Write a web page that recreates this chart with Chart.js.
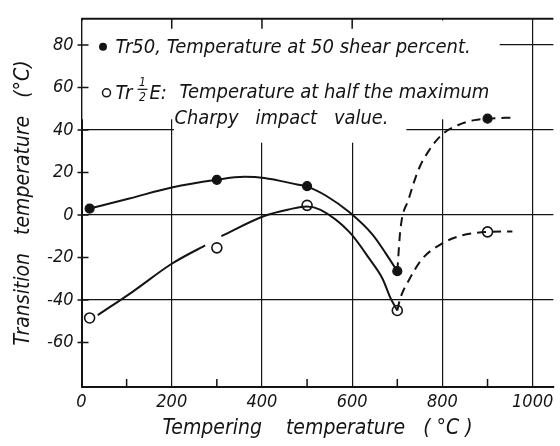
<!DOCTYPE html>
<html>
<head>
<meta charset="utf-8">
<script src="https://cdn.jsdelivr.net/npm/chart.js@4.4.1/dist/chart.umd.min.js"></script>
<style>
  html, body { margin: 0; padding: 0; background: #fff; }
  #wrap { width: 560px; height: 446px; }
</style>
</head>
<body>
<div id="wrap"><canvas id="chart" width="560" height="446"></canvas></div>
<script>
// measured points (tempering temperature, deg C)
const tempering = [18, 300, 500, 700, 900];
const tr50 = [3, 16.5, 13.5, -26.5, 45.3];
const trHalfE = [-48.5, -15.5, 4.5, -45, -8];

// hand-drawn curves
const tr50SolidX = [18, 106, 200, 296, 361, 405, 478, 500, 543, 594, 646, 674, 700];
const tr50SolidY = [3, 7.7, 12.9, 16.4, 17.9, 17.4, 14.3, 13.3, 8.9, 1.2, -9.5, -18, -26.5];
const tr50DashX = [700, 707, 725, 747, 769, 798, 834, 871, 900, 960];
const tr50DashY = [-26.5, -6.6, 7.3, 21.3, 29.9, 37.6, 42.2, 44.6, 45.3, 45.8];

const halfSolidAX = [36, 113, 200, 274];
const halfSolidAY = [-47.2, -36.2, -23, -14.3];
const halfSolidBX = [310, 405, 460, 500, 530, 594, 638, 667, 685, 700];
const halfSolidBY = [-10, -0.5, 2.6, 4, 2.4, -8.1, -20.6, -29.9, -39.2, -45];
const halfDashX = [700, 707, 725, 754, 798, 842, 900, 955];
const halfDashY = [-45, -39, -31, -21, -13.6, -9.7, -8, -7.8];

// axes
const xTicks = [0, 200, 400, 600, 800, 1000];
const xMinorTicks = [100, 300, 500, 700, 900];
const xTopTicks = [200, 400, 600];
const yTicks = [-60, -40, -20, 0, 20, 40, 60, 80];

const FONT = "'Liberation Sans Narrow', 'DejaVu Sans Condensed', 'Liberation Sans', sans-serif";
const INK = '#141414';

function pts(xs, ys) {
  return xs.map((x, i) => ({ x: x, y: ys[i] }));
}

function curve(xs, ys, dashed) {
  return {
    data: pts(xs, ys),
    showLine: true,
    borderColor: INK,
    borderWidth: 2,
    borderDash: dashed ? [9, 6] : [],
    pointRadius: 0,
    cubicInterpolationMode: 'monotone',
    fill: false
  };
}

// white patch behind the legend text, then ticks, top border and legend on top
const paperPlugin = {
  id: 'paper',
  beforeDraw(chart) {
    const c = chart.ctx;
    c.save();
    c.fillStyle = '#fff';
    c.fillRect(0, 0, chart.width, chart.height);
    c.restore();
  },
  beforeDatasetsDraw(chart) {
    const c = chart.ctx, x = chart.scales.x, y = chart.scales.y;
    c.save();
    c.fillStyle = '#fff';
    // upper band
    c.fillRect(x.getPixelForValue(2), y.getPixelForValue(91.5),
      x.getPixelForValue(927) - x.getPixelForValue(2), y.getPixelForValue(45) - y.getPixelForValue(91.5));
    // band under the second and third legend lines
    c.fillRect(x.getPixelForValue(205), y.getPixelForValue(91.5),
      x.getPixelForValue(720) - x.getPixelForValue(205), y.getPixelForValue(34) - y.getPixelForValue(91.5));
    c.restore();
  },
  afterDatasetsDraw(chart) {
    const c = chart.ctx, a = chart.chartArea, x = chart.scales.x, y = chart.scales.y;
    c.save();
    c.strokeStyle = INK;
    c.fillStyle = INK;

    // top border
    c.lineWidth = 2;
    c.beginPath();
    c.moveTo(a.left, a.top);
    c.lineTo(a.right, a.top);
    c.stroke();

    // tick marks
    c.lineWidth = 1.5;
    c.beginPath();
    yTicks.forEach(v => {
      const py = y.getPixelForValue(v);
      c.moveTo(a.left - 4, py);
      c.lineTo(a.left + 7, py);
    });
    xMinorTicks.forEach(v => {
      const px = x.getPixelForValue(v);
      c.moveTo(px, a.bottom);
      c.lineTo(px, a.bottom - 8);
    });
    xTopTicks.forEach(v => {
      const px = x.getPixelForValue(v);
      c.moveTo(px, a.top);
      c.lineTo(px, a.top + 10);
    });
    c.stroke();

    // legend
    const L = a.left, T = a.top;
    c.font = 'italic 20px ' + FONT;
    c.textBaseline = 'alphabetic';
    c.textAlign = 'left';

    c.beginPath();
    c.arc(L + 21.5, T + 28, 4, 0, Math.PI * 2);
    c.fill();
    c.fillText('Tr50, Temperature at 50 shear percent.', L + 34, T + 34, 370);

    c.lineWidth = 1.5;
    c.beginPath();
    c.arc(L + 25, T + 74, 4, 0, Math.PI * 2);
    c.stroke();
    c.fillText('Tr', L + 34, T + 80);
    c.font = 'italic 12px ' + FONT;
    c.textAlign = 'center';
    c.fillText('1', L + 61, T + 67);
    c.fillText('2', L + 61, T + 82);
    c.lineWidth = 1.2;
    c.beginPath();
    c.moveTo(L + 56, T + 70.5);
    c.lineTo(L + 66, T + 70.5);
    c.stroke();
    c.textAlign = 'left';
    c.font = 'italic 20px ' + FONT;
    c.fillText('E:', L + 68, T + 80);
    c.fillText('Temperature at half the maximum', L + 98, T + 79, 322);
    c.fillText('Charpy   impact   value.', L + 93, T + 105, 214);

    c.restore();
  }
};

const ctx = document.getElementById('chart').getContext('2d');
new Chart(ctx, {
  type: 'scatter',
  data: {
    datasets: [
      curve(tr50SolidX, tr50SolidY, false),
      curve(tr50DashX, tr50DashY, true),
      curve(halfSolidAX, halfSolidAY, false),
      curve(halfSolidBX, halfSolidBY, false),
      curve(halfDashX, halfDashY, true),
      {
        label: 'Tr50',
        data: pts(tempering, tr50),
        pointRadius: 4.5,
        pointBackgroundColor: INK,
        pointBorderColor: INK,
        pointBorderWidth: 1.2,
        showLine: false
      },
      {
        label: 'Tr 1/2 E',
        data: pts(tempering, trHalfE),
        pointRadius: 5,
        pointBackgroundColor: '#fff',
        pointBorderColor: INK,
        pointBorderWidth: 1.6,
        showLine: false
      }
    ]
  },
  options: {
    responsive: false,
    animation: false,
    events: [],
    layout: { padding: { left: 3.5, top: 14, right: 0, bottom: 0 } },
    plugins: {
      legend: { display: false },
      tooltip: { enabled: false }
    },
    scales: {
      x: {
        type: 'linear',
        min: 0,
        max: 1046,
        afterBuildTicks: s => { s.ticks = xTicks.map(v => ({ value: v })); },
        afterFit: s => { s.height = 59; },
        grid: {
          color: INK,
          lineWidth: 1.2,
          drawTicks: false
        },
        border: { display: true, color: INK, width: 2 },
        ticks: {
          padding: 5,
          color: INK,
          maxRotation: 0,
          callback: v => String(v),
          font: { family: FONT, size: 18, style: 'italic' }
        },
        title: {
          display: true,
          text: 'Tempering    temperature   ( °C )',
          color: INK,
          padding: { top: 2, bottom: 5 },
          font: { family: FONT, size: 21, style: 'italic' }
        }
      },
      y: {
        type: 'linear',
        min: -81,
        max: 92.3,
        afterBuildTicks: s => { s.ticks = yTicks.map(v => ({ value: v })); },
        afterFit: s => { s.width = 78; },
        grid: {
          color: c => (c.tick && c.tick.value % 40 === 0) ? INK : 'rgba(0,0,0,0)',
          lineWidth: 1.2,
          drawTicks: false
        },
        border: { display: true, color: INK, width: 2 },
        ticks: {
          padding: 8,
          color: INK,
          callback: v => String(v),
          font: { family: FONT, size: 18, style: 'italic' }
        },
        title: {
          display: true,
          text: 'Transition   temperature   (°C)',
          color: INK,
          padding: { top: 7, bottom: 4 },
          font: { family: FONT, size: 21, style: 'italic' }
        }
      }
    }
  },
  plugins: [paperPlugin]
});
</script>
</body>
</html>
